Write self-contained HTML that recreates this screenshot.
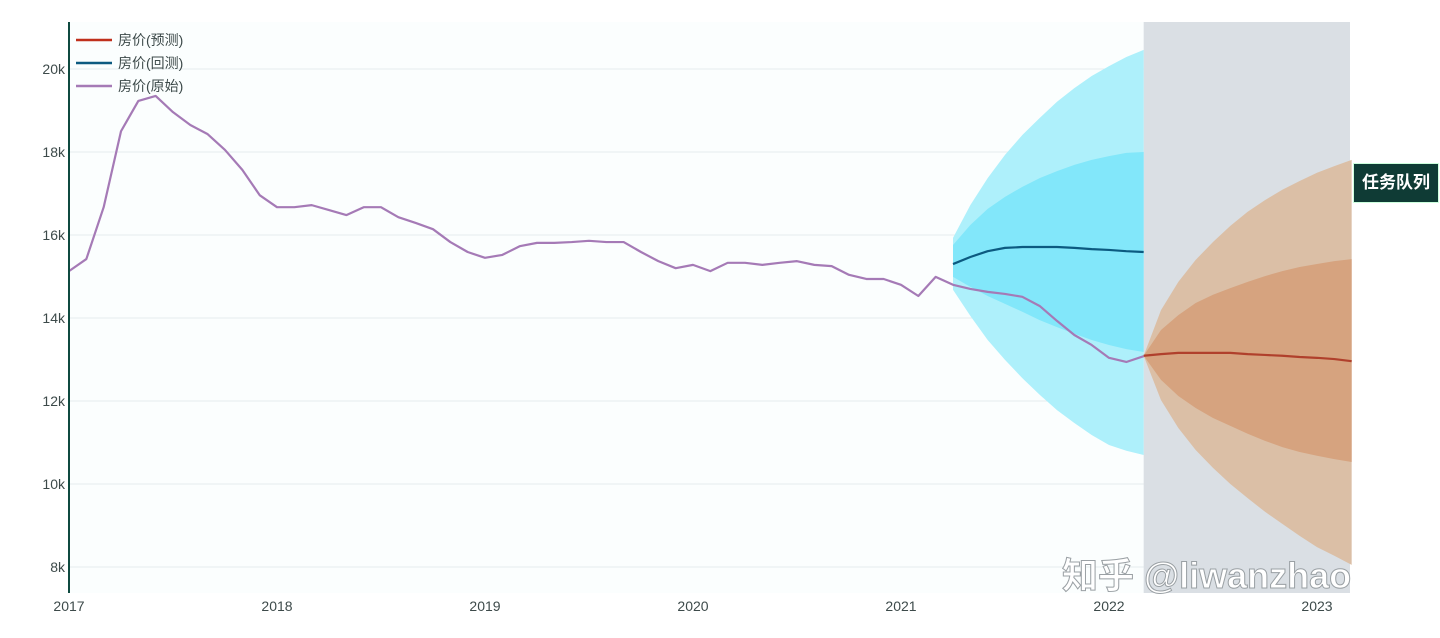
<!DOCTYPE html>
<html><head><meta charset="utf-8"><style>
body{margin:0;background:#fff;width:1440px;height:633px;overflow:hidden;font-family:"Liberation Sans","Noto Sans CJK SC",sans-serif}
svg text{font-family:"Liberation Sans","Noto Sans CJK SC",sans-serif}
</style></head><body>
<svg id="c" width="1440" height="633"></svg>
<div style="position:absolute;left:1353px;top:163px;width:84px;height:38px;background:#0f3b35;color:#fff;font-weight:bold;font-size:17px;line-height:38px;text-align:center;font-family:'Liberation Sans','Noto Sans CJK SC',sans-serif;border:1px solid #cfd;">任务队列</div>
<script>
const original=[15130,15420,16670,18500,19230,19350,18960,18650,18430,18050,17570,16960,16670,16670,16720,16600,16480,16670,16670,16430,16290,16140,15830,15590,15450,15520,15730,15810,15810,15830,15860,15830,15830,15590,15370,15200,15280,15130,15330,15330,15280,15330,15370,15280,15250,15040,14940,14940,14800,14530,14990,14800,14700,14630,14580,14510,14290,13930,13590,13350,13040,12940,13080];
const backtest=[15300,15470,15610,15690,15710,15710,15710,15690,15660,15640,15610,15590];
const btOuterUp=[15930,16720,17370,17930,18410,18820,19210,19540,19830,20070,20290,20460];
const btOuterLo=[14680,14050,13470,12990,12550,12150,11780,11470,11180,10940,10800,10700];
const btInnerUp=[15760,16240,16630,16920,17160,17370,17540,17690,17810,17900,17980,18000];
const btInnerLo=[14990,14750,14530,14340,14150,13950,13780,13620,13470,13350,13250,13180];
const forecast=[13090,13130,13160,13160,13160,13160,13130,13110,13090,13060,13040,13010,12960];
const fcOuterUp=[13090,14190,14870,15400,15830,16220,16560,16840,17090,17300,17500,17660,17810];
const fcOuterLo=[13090,12020,11350,10820,10390,10000,9660,9330,9040,8750,8480,8270,8050];
const fcInnerUp=[13090,13710,14070,14360,14560,14720,14870,15010,15130,15230,15300,15370,15420];
const fcInnerLo=[13090,12510,12120,11830,11590,11400,11210,11040,10890,10770,10680,10600,10530];
const yTicks=[8000,10000,12000,14000,16000,18000,20000];
const xTicks=["2017","2018","2019","2020","2021","2022","2023"];
const btStart=51, fcStart=62;

const NS="http://www.w3.org/2000/svg";
const svg=document.getElementById('c');
const L=69,R=1350,T=22,B=593;
const X=m=>69+m*(208/12);
const Y=v=>567-(v-8000)*41.5/1000;
function mk(t,a,p){const e=document.createElementNS(NS,t);for(const k in a)e.setAttribute(k,a[k]);(p||svg).appendChild(e);return e;}
const bg=mk('rect',{x:L,y:T,width:R-L,height:B-T,fill:'#fbfefe'});


yTicks.forEach(v=>{
 const g=mk('line',{x1:L,x2:R,y1:Y(v),y2:Y(v),stroke:'#e6ecee','stroke-width':1});
 
 
 const t=mk('text',{x:L-4,y:Y(v)+5,'text-anchor':'end','font-size':14,fill:'#3d4a4a'});
 t.textContent=(v/1000)+'k';
 
 
});
xTicks.forEach((s,i)=>{
 const t=mk('text',{x:X(i*12),y:611,'text-anchor':'middle','font-size':14,fill:'#3d4a4a'});
 t.textContent=s;
 
 
});
const shade=mk('rect',{x:X(fcStart),y:T,width:R-X(fcStart),height:B-T,fill:'#dadfe4'});


function band(up,lo,start,fill,name){
 let d='';up.forEach((v,i)=>d+=(i?'L':'M')+X(start+i)+','+Y(v));
 for(let i=lo.length-1;i>=0;i--)d+='L'+X(start+i)+','+Y(lo[i]);
 const p=mk('path',{d:d+'Z',fill:fill});
 
 
}
function line(arr,start,col,name){
 const p=mk('polyline',{points:arr.map((v,i)=>X(start+i)+','+Y(v)).join(' '),fill:'none',stroke:col,'stroke-width':2.2,'stroke-linejoin':'round'});
 
 
}
band(btOuterUp,btOuterLo,btStart,'#aef0fb','backtest-outer-band');
band(btInnerUp,btInnerLo,btStart,'#82e7fa','backtest-inner-band');
band(fcOuterUp,fcOuterLo,fcStart,'#dbbfa6','forecast-outer-band');
band(fcInnerUp,fcInnerLo,fcStart,'#d6a37f','forecast-inner-band');
line(original,0,'#a57ab6','original-line');
line(backtest,btStart,'#0c5a80','backtest-line');
line(forecast,fcStart,'#b0402c','forecast-line');
const ax=mk('line',{x1:L,x2:L,y1:T,y2:B,stroke:'#0f4a40','stroke-width':2});


const leg=[['房价(预测)','#c0301c'],['房价(回测)','#0c5a80'],['房价(原始)','#a57ab6']];
leg.forEach((l,i)=>{
 const y=40+i*23;
 const ln=mk('line',{x1:76,x2:112,y1:y,y2:y,stroke:l[1],'stroke-width':2.5});
 
 
 const t=mk('text',{x:118,y:y+5,'font-size':14,fill:'#3d4a4a'});
 t.textContent=l[0];
 
 
});
const wm=mk('text',{x:1062,y:588,'font-size':36,fill:'#ffffff',stroke:'#9aa0a4','stroke-width':1,'font-weight':'bold'});
wm.textContent='知乎 @liwanzhao';


</script>
</body></html>
